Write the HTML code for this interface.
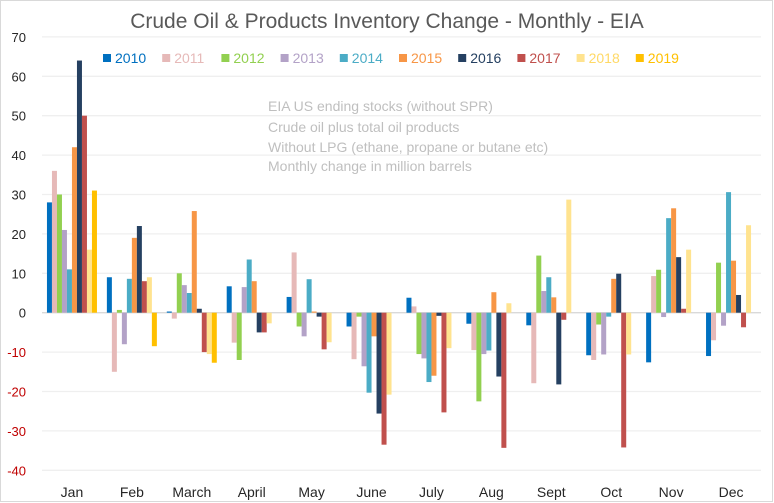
<!DOCTYPE html>
<html><head><meta charset="utf-8"><style>
body{margin:0;background:#fff;}
svg{display:block;font-family:"Liberation Sans",sans-serif;}
</style></head><body>
<svg id="chart" width="774" height="503">
<rect x="0.5" y="0.5" width="772" height="501" fill="#fff" stroke="#d9d9d9"/>
<text x="387" y="28" text-anchor="middle" font-size="21" fill="#595959">Crude Oil &amp; Products Inventory Change - Monthly - EIA</text>
<g id="grid"></g><g id="bars"></g><g id="axis"></g><g id="legend"></g>
<g fill="#bfbfbf" font-size="14">
<text x="268" y="111">EIA US ending stocks (without SPR)</text>
<text x="268" y="132">Crude oil plus total oil products</text>
<text x="268" y="152">Without LPG (ethane, propane or butane etc)</text>
<text x="268" y="171">Monthly change in million barrels</text>
</g>
</svg>
<script>
const months=["Jan","Feb","March","April","May","June","July","Aug","Sept","Oct","Nov","Dec"];
const years=["2010","2011","2012","2013","2014","2015","2016","2017","2018","2019"];
const colors=["#0070c0","#e6b9b8","#92d050","#b3a2c7","#4bacc6","#f79646","#254061","#c0504d","#ffe38f","#ffc000"];
const s2010=[28,9,0.3,6.7,4,-3.5,3.8,-2.8,-3.2,-10.8,-12.6,-11];
const s2011=[36,-15,-1.5,-7.6,15.3,-11.8,1.6,-9.5,-17.9,-12,9.3,-7];
const s2012=[30,0.7,10,-12,-3.5,-1,-10.5,-22.5,14.5,-3,10.9,12.7];
const s2013=[21,-8,7,6.5,-6,-13.6,-11.6,-10.5,5.5,-10.6,-1.1,-3.3];
const s2014=[11,8.6,5,13.5,8.5,-20.3,-17.6,-9.6,9,-1,24,30.6];
const s2015=[42,19,25.8,8,0.3,-6,-16,5.2,3.9,8.6,26.5,13.2];
const s2016=[64,22,1,-5,-1,-25.6,-0.8,-16.2,-18.2,9.9,14.1,4.5];
const s2017=[50,8,-10,-5,-9.3,-33.5,-25.3,-34.3,-1.8,-34.2,1,-3.7];
const s2018=[16,9,-10.5,-2.7,-7.5,-20.8,-9,2.4,28.7,-10.6,16,22.2];
const s2019=[31,-8.5,-12.7,null,null,null,null,null,null,null,null,null];
const series=[s2010,s2011,s2012,s2013,s2014,s2015,s2016,s2017,s2018,s2019];
const ticks=[70,60,50,40,30,20,10,0,-10,-20,-30,-40];
const NS="http://www.w3.org/2000/svg";
const X0=42,X1=761,Y0=312.7,PU=3.94;
const cw=(X1-X0)/months.length;
const y=v=>Y0-v*PU;
function mk(t,a,p){const e=document.createElementNS(NS,t);for(const k in a)e.setAttribute(k,a[k]);p.appendChild(e);return e;}
const grid=document.getElementById('grid'),axis=document.getElementById('axis'),bars=document.getElementById('bars'),leg=document.getElementById('legend');
ticks.forEach(t=>{
 const l=mk('line',{x1:X0,x2:X1,y1:y(t),y2:y(t),stroke:t===0?'#d9d9d9':'#efefef','stroke-width':1.3},grid);
 
 
 const tx=mk('text',{x:26,y:y(t)+5,'text-anchor':'end','font-size':13,fill:t<0?'#c00000':'#262626'},axis);
 tx.textContent=t;
 
 
});
months.forEach((m,i)=>{
 const tx=mk('text',{x:X0+cw*(i+0.5),y:497,'text-anchor':'middle','font-size':14,fill:'#262626'},axis);
 tx.textContent=m;
 
 
});
const bw=5,gOff=(cw-bw*years.length)/2;
series.forEach((s,j)=>{s.forEach((v,i)=>{
 if(v===null)return;
 const bx=X0+cw*i+gOff+j*bw;
 const r=mk('rect',{x:bx,y:Math.min(y(v),Y0),width:bw,height:Math.abs(v*PU),fill:colors[j]},bars);
 
 
});});
years.forEach((yr,j)=>{
 const lx=103+j*59.2;
 const g=mk('g',{},leg);
 
 
 mk('rect',{x:lx,y:54,width:8,height:8,fill:colors[j]},g);
 const t=mk('text',{x:lx+12,y:63,'font-size':14,fill:j===8?'#ffd966':colors[j]},g);
 t.textContent=yr;
});
</script>
</body></html>
